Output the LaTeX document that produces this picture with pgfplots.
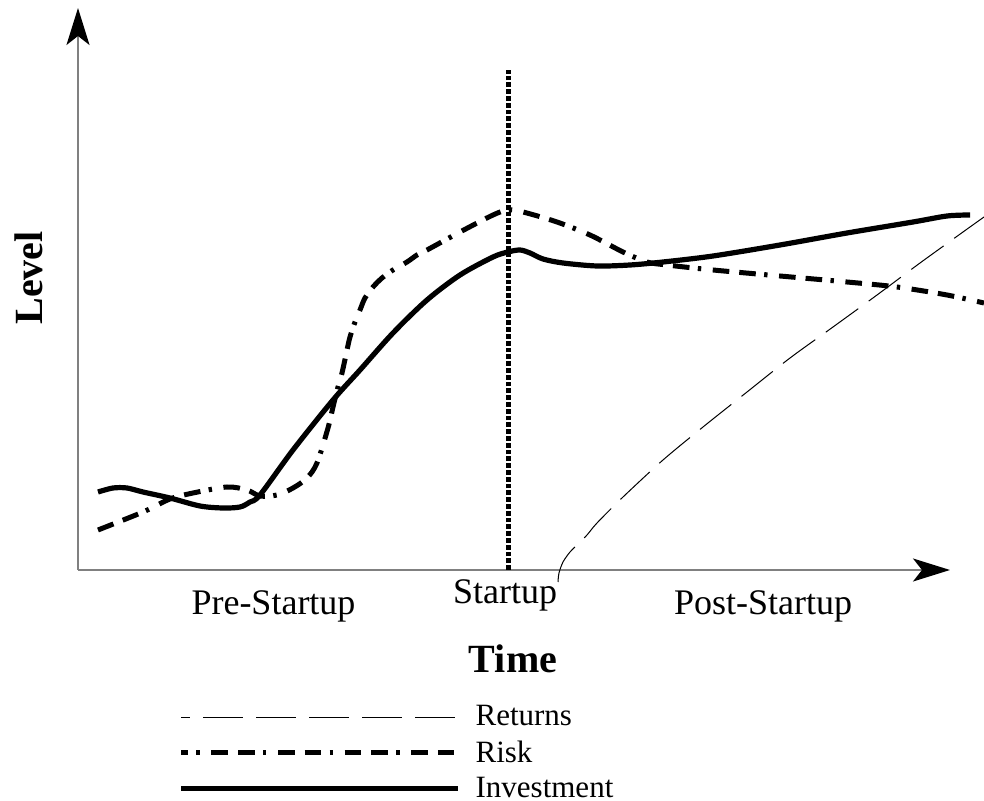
\documentclass[border=0pt]{standalone}
\usepackage{fontspec}
\setmainfont{Liberation Serif}
\usepackage{pgfplots}
\pgfplotsset{compat=1.18}
\usetikzlibrary{arrows.meta}

\begin{document}
\begin{tikzpicture}
\begin{axis}[
  x=0.5pt, y=0.5pt,
  xmin=0, xmax=872, ymin=0, ymax=562,
  axis lines=left,
  ticks=none,
  clip=false,
  axis line style={draw=black!50, line width=1pt},
  x axis line style={-{Stealth[length=18.5pt,width=11.5pt,inset=4.5pt,color=black]}},
  y axis line style={-{Stealth[length=18.5pt,width=11.5pt,inset=4.5pt,color=black]}},
  xlabel={Time},
  ylabel={Level},
  x label style={at={(0.49885,-0.18327)}, anchor=base, inner sep=0pt, font=\bfseries\fontsize{20pt}{24pt}\selectfont},
  y label style={at={(-0.04128,0.51957)}, anchor=base, inner sep=0pt, font=\bfseries\fontsize{20pt}{24pt}\selectfont},
  legend style={draw=none, fill=none, at={(0.11468,-0.2402)}, anchor=north west, inner sep=0pt,
    row sep=5.9pt, column sep=7.5pt, font=\fontsize{15.5pt}{18pt}\selectfont, nodes={inner sep=0pt},
    cells={anchor=west}},
  legend cell align=left,
  legend image code/.code={\draw[#1] (0pt,0pt) -- (138.5pt,0pt);},
]

% Returns
\addplot[forget plot, black, line width=0.5pt, dash pattern=on 20pt off 6.5pt, smooth, no markers] coordinates {
(480,-12) (481,-3) (485,8) (492,18) (499,25) (509,35) (519,47) (545,73) (585,110) (625,143)
(669,178) (712,212) (755,243) (799,275) (842,307) (885,338) (906,353)
};

% Risk
\addplot[forget plot, black, line width=2.5pt, dash pattern=on 8.3pt off 5pt on 8.3pt off 4.2pt on 1.7pt off 5.8pt, smooth, no markers] coordinates {
(20,40) (65,58) (92,71) (115,77) (149,83) (169,80) (182,74) (199,75) (215,82) (229,92)
(239,107) (250,142) (255,163) (260,183) (264,197) (269,220) (272,233) (277,248) (282,260)
(287,272) (295,283) (304,292) (315,300) (329,308) (339,315) (349,320)
(382,338) (415,355) (430,360) (445,358) (479,348) (512,335) (545,318) (569,308)
(589,305) (635,300) (702,294) (769,288) (819,283) (869,275) (906,267)
};

% Investment
\addplot[forget plot, black, line width=2.6pt, smooth, no markers] coordinates {
(20,78) (35,82) (49,82) (65,78) (92,72) (122,64) (145,62) (162,63) (172,68) (182,75)
(215,120) (255,170) (282,200) (315,237) (349,270) (382,295) (415,313) (430,318)
(442,320) (452,317) (465,311) (485,307) (519,304) (552,305) (585,308) (635,314)
(702,325) (769,337) (835,348) (869,354) (892,355)
};

% Startup marker
\addplot[forget plot, black, line width=2.5pt, dash pattern=on 2.4pt off 1pt] coordinates {(430,0) (430,500)};

\addlegendimage{black, line width=0.5pt, dash pattern=on 20pt off 6.5pt, dash phase=15.5pt}
\addlegendentry{Returns}
\addlegendimage{black, line width=2.5pt, dash pattern=on 8.3pt off 5pt on 8.3pt off 4.2pt on 1.7pt off 5.8pt, dash phase=18.1pt}
\addlegendentry{Risk}
\addlegendimage{black, line width=2.6pt}
\addlegendentry{Investment}

\node[anchor=base, inner sep=0pt, font=\fontsize{18pt}{21pt}\selectfont] at (axis cs:195.5,-45) {Pre-Startup};
\node[anchor=base, inner sep=0pt, font=\fontsize{18pt}{21pt}\selectfont] at (axis cs:427,-34) {Startup};
\node[anchor=base, inner sep=0pt, font=\fontsize{18pt}{21pt}\selectfont] at (axis cs:685,-45) {Post-Startup};

\coordinate (bl) at (axis cs:-78,-231);
\coordinate (tr) at (axis cs:906,570);
\end{axis}
\pgfresetboundingbox
\path (bl) rectangle (tr);
\end{tikzpicture}
\end{document}
